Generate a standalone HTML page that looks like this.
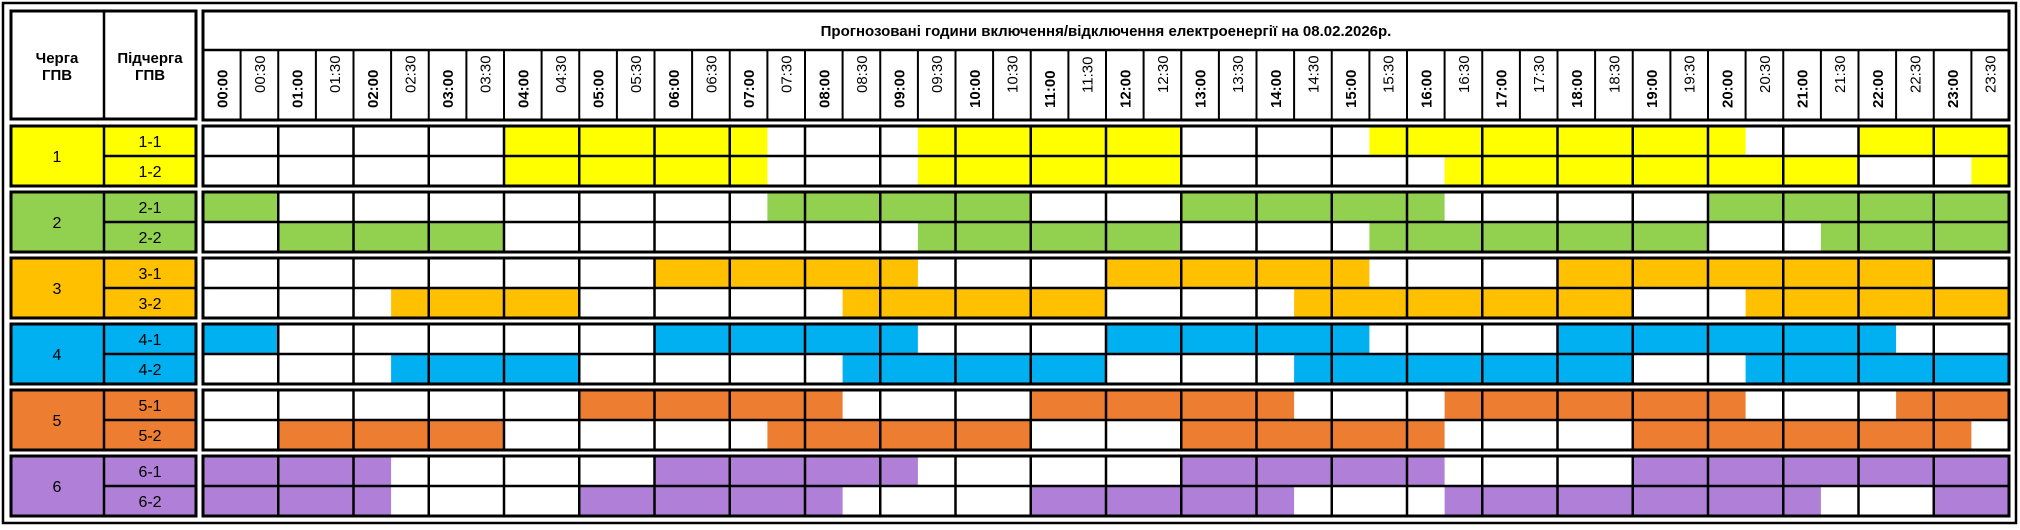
<!DOCTYPE html>
<html><head><meta charset="utf-8"><style>
html,body{margin:0;padding:0;background:#fff;width:2020px;height:530px;overflow:hidden}
svg{display:block}
text{font-family:"Liberation Sans",Arial,sans-serif;fill:#000}
.b{font-weight:bold;font-size:15px}
.n{font-size:15px}
.l{font-size:16px}
</style></head><body>
<svg width="2020" height="530" viewBox="0 0 2020 530" xmlns="http://www.w3.org/2000/svg">
<defs>
<g id="grp">
<path d="M278.25 0V60M353.5 0V60M428.75 0V60M504 0V60M579.25 0V60M654.5 0V60M729.75 0V60M805 0V60M880.25 0V60M955.5 0V60M1030.75 0V60M1106 0V60M1181.25 0V60M1256.5 0V60M1331.75 0V60M1407 0V60M1482.25 0V60M1557.5 0V60M1632.75 0V60M1708 0V60M1783.25 0V60M1858.5 0V60M1933.75 0V60M203 30H2009M104 0V60M104 30H196" stroke="#000" stroke-width="2.5" fill="none"/>
<rect x="203" y="0" width="1806" height="60" fill="none" stroke="#000" stroke-width="3"/>
<rect x="11" y="0" width="185" height="60" fill="none" stroke="#000" stroke-width="3"/>
</g>
</defs>
<rect x="3" y="3" width="2013" height="520" fill="none" stroke="#000" stroke-width="2.5"/>

<!-- left labels backgrounds -->
<rect x="11" y="126" width="185" height="60" fill="#ffff00"/>
<rect x="11" y="192" width="185" height="60" fill="#92d050"/>
<rect x="11" y="258" width="185" height="60" fill="#ffc000"/>
<rect x="11" y="324" width="185" height="60" fill="#00b0f0"/>
<rect x="11" y="390" width="185" height="60" fill="#ed7d31"/>
<rect x="11" y="456" width="185" height="60" fill="#b07fd7"/>

<!-- 1 -->
<g fill="#ffff00">
<rect x="504" y="126" width="263.4" height="30"/><rect x="917.9" y="126" width="263.4" height="30"/><rect x="1369.4" y="126" width="376.2" height="30"/><rect x="1858.5" y="126" width="150.5" height="30"/>
<rect x="504" y="156" width="263.4" height="30"/><rect x="917.9" y="156" width="263.4" height="30"/><rect x="1444.6" y="156" width="413.9" height="30"/><rect x="1971.4" y="156" width="37.6" height="30"/>
</g>
<!-- 2 -->
<g fill="#92d050">
<rect x="203" y="192" width="75.3" height="30"/><rect x="767.4" y="192" width="263.4" height="30"/><rect x="1181.3" y="192" width="263.3" height="30"/><rect x="1708" y="192" width="301" height="30"/>
<rect x="278.3" y="222" width="225.7" height="30"/><rect x="917.9" y="222" width="263.4" height="30"/><rect x="1369.4" y="222" width="338.6" height="30"/><rect x="1820.9" y="222" width="188.1" height="30"/>
</g>
<!-- 3 -->
<g fill="#ffc000">
<rect x="654.5" y="258" width="263.4" height="30"/><rect x="1106" y="258" width="263.4" height="30"/><rect x="1557.5" y="258" width="376.3" height="30"/>
<rect x="391.1" y="288" width="188.2" height="30"/><rect x="842.6" y="288" width="263.4" height="30"/><rect x="1294.1" y="288" width="338.7" height="30"/><rect x="1745.6" y="288" width="263.4" height="30"/>
</g>
<!-- 4 -->
<g fill="#00b0f0">
<rect x="203" y="324" width="75.3" height="30"/><rect x="654.5" y="324" width="263.4" height="30"/><rect x="1106" y="324" width="263.4" height="30"/><rect x="1557.5" y="324" width="338.6" height="30"/>
<rect x="391.1" y="354" width="188.2" height="30"/><rect x="842.6" y="354" width="263.4" height="30"/><rect x="1294.1" y="354" width="338.7" height="30"/><rect x="1745.6" y="354" width="263.4" height="30"/>
</g>
<!-- 5 -->
<g fill="#ed7d31">
<rect x="579.3" y="390" width="263.3" height="30"/><rect x="1030.8" y="390" width="263.3" height="30"/><rect x="1444.6" y="390" width="301" height="30"/><rect x="1896.1" y="390" width="112.9" height="30"/>
<rect x="278.3" y="420" width="225.7" height="30"/><rect x="767.4" y="420" width="263.4" height="30"/><rect x="1181.3" y="420" width="263.3" height="30"/><rect x="1632.8" y="420" width="338.6" height="30"/>
</g>
<!-- 6 -->
<g fill="#b07fd7">
<rect x="203" y="456" width="188.1" height="30"/><rect x="654.5" y="456" width="263.4" height="30"/><rect x="1181.3" y="456" width="263.3" height="30"/><rect x="1632.8" y="456" width="376.2" height="30"/>
<rect x="203" y="486" width="188.1" height="30"/><rect x="579.3" y="486" width="263.3" height="30"/><rect x="1030.8" y="486" width="263.3" height="30"/><rect x="1444.6" y="486" width="376.3" height="30"/><rect x="1933.8" y="486" width="75.2" height="30"/>
</g>

<use href="#grp" y="126"/>
<use href="#grp" y="192"/>
<use href="#grp" y="258"/>
<use href="#grp" y="324"/>
<use href="#grp" y="390"/>
<use href="#grp" y="456"/>

<!-- left labels -->
<g class="l" text-anchor="middle">
<text x="57" y="162">1</text><text x="150" y="147">1-1</text><text x="150" y="177">1-2</text>
<text x="57" y="228">2</text><text x="150" y="213">2-1</text><text x="150" y="243">2-2</text>
<text x="57" y="294">3</text><text x="150" y="279">3-1</text><text x="150" y="309">3-2</text>
<text x="57" y="360">4</text><text x="150" y="345">4-1</text><text x="150" y="375">4-2</text>
<text x="57" y="426">5</text><text x="150" y="411">5-1</text><text x="150" y="441">5-2</text>
<text x="57" y="492">6</text><text x="150" y="477">6-1</text><text x="150" y="507">6-2</text>
</g>

<!-- header -->
<rect x="11" y="11" width="185" height="108" fill="none" stroke="#000" stroke-width="3"/>
<path d="M104 11V119" stroke="#000" stroke-width="2.5"/>
<g class="b" text-anchor="middle">
<text x="57" y="63">Черга</text><text x="57" y="80">ГПВ</text>
<text x="150" y="63">Підчерга</text><text x="150" y="80">ГПВ</text>
</g>
<rect x="203" y="11" width="1806" height="109" fill="none" stroke="#000" stroke-width="3"/>
<path d="M203 50H2009" stroke="#000" stroke-width="2.5"/>
<path d="M240.6 50V120M278.25 50V120M315.9 50V120M353.5 50V120M391.1 50V120M428.75 50V120M466.4 50V120M504 50V120M541.6 50V120M579.25 50V120M616.9 50V120M654.5 50V120M692.1 50V120M729.75 50V120M767.4 50V120M805 50V120M842.6 50V120M880.25 50V120M917.9 50V120M955.5 50V120M993.1 50V120M1030.75 50V120M1068.4 50V120M1106 50V120M1143.6 50V120M1181.25 50V120M1218.9 50V120M1256.5 50V120M1294.1 50V120M1331.75 50V120M1369.4 50V120M1407 50V120M1444.6 50V120M1482.25 50V120M1519.9 50V120M1557.5 50V120M1595.1 50V120M1632.75 50V120M1670.4 50V120M1708 50V120M1745.6 50V120M1783.25 50V120M1820.9 50V120M1858.5 50V120M1896.1 50V120M1933.75 50V120M1971.4 50V120" stroke="#000" stroke-width="2"/>
<text class="b" x="1106" y="36" text-anchor="middle">Прогнозовані години включення/відключення електроенергії на 08.02.2026р.</text>

<g class="b">
<text transform="translate(227.3,108) rotate(-90)">00:00</text>
<text transform="translate(302.55,108) rotate(-90)">01:00</text>
<text transform="translate(377.8,108) rotate(-90)">02:00</text>
<text transform="translate(453.05,108) rotate(-90)">03:00</text>
<text transform="translate(528.3,108) rotate(-90)">04:00</text>
<text transform="translate(603.55,108) rotate(-90)">05:00</text>
<text transform="translate(678.8,108) rotate(-90)">06:00</text>
<text transform="translate(754.05,108) rotate(-90)">07:00</text>
<text transform="translate(829.3,108) rotate(-90)">08:00</text>
<text transform="translate(904.55,108) rotate(-90)">09:00</text>
<text transform="translate(979.8,108) rotate(-90)">10:00</text>
<text transform="translate(1055.05,108) rotate(-90)">11:00</text>
<text transform="translate(1130.3,108) rotate(-90)">12:00</text>
<text transform="translate(1205.55,108) rotate(-90)">13:00</text>
<text transform="translate(1280.8,108) rotate(-90)">14:00</text>
<text transform="translate(1356.05,108) rotate(-90)">15:00</text>
<text transform="translate(1431.3,108) rotate(-90)">16:00</text>
<text transform="translate(1506.55,108) rotate(-90)">17:00</text>
<text transform="translate(1581.8,108) rotate(-90)">18:00</text>
<text transform="translate(1657.05,108) rotate(-90)">19:00</text>
<text transform="translate(1732.3,108) rotate(-90)">20:00</text>
<text transform="translate(1807.55,108) rotate(-90)">21:00</text>
<text transform="translate(1882.8,108) rotate(-90)">22:00</text>
<text transform="translate(1958.05,108) rotate(-90)">23:00</text>
</g>
<g class="n">
<text transform="translate(264.9,93) rotate(-90)">00:30</text>
<text transform="translate(340.15,93) rotate(-90)">01:30</text>
<text transform="translate(415.4,93) rotate(-90)">02:30</text>
<text transform="translate(490.65,93) rotate(-90)">03:30</text>
<text transform="translate(565.9,93) rotate(-90)">04:30</text>
<text transform="translate(641.15,93) rotate(-90)">05:30</text>
<text transform="translate(716.4,93) rotate(-90)">06:30</text>
<text transform="translate(791.65,93) rotate(-90)">07:30</text>
<text transform="translate(866.9,93) rotate(-90)">08:30</text>
<text transform="translate(942.15,93) rotate(-90)">09:30</text>
<text transform="translate(1017.4,93) rotate(-90)">10:30</text>
<text transform="translate(1092.65,93) rotate(-90)">11:30</text>
<text transform="translate(1167.9,93) rotate(-90)">12:30</text>
<text transform="translate(1243.15,93) rotate(-90)">13:30</text>
<text transform="translate(1318.4,93) rotate(-90)">14:30</text>
<text transform="translate(1393.65,93) rotate(-90)">15:30</text>
<text transform="translate(1468.9,93) rotate(-90)">16:30</text>
<text transform="translate(1544.15,93) rotate(-90)">17:30</text>
<text transform="translate(1619.4,93) rotate(-90)">18:30</text>
<text transform="translate(1694.65,93) rotate(-90)">19:30</text>
<text transform="translate(1769.9,93) rotate(-90)">20:30</text>
<text transform="translate(1845.15,93) rotate(-90)">21:30</text>
<text transform="translate(1920.4,93) rotate(-90)">22:30</text>
<text transform="translate(1995.65,93) rotate(-90)">23:30</text>
</g>
</svg>
</body></html>
